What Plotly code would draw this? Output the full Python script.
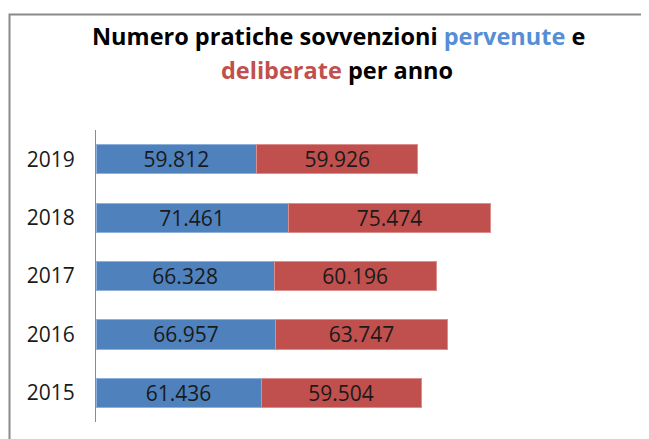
import plotly.graph_objects as go

years = ["2015", "2016", "2017", "2018", "2019"]
pervenute = [61436, 66957, 66328, 71461, 59812]
deliberate = [59504, 63747, 60196, 75474, 59926]

# The page body has an 8px margin, so the figure is drawn 8px smaller and
# every target pixel position is shifted by -8.
OFF = 8
W, H = 649 - OFF, 439 - OFF
L, R, T, B = 96 - OFF, 526 - OFF, 130 - OFF, 422 - OFF  # plot area in pixels


def px_to_paper_x(px):
    return (px - OFF - L) / (R - L)


def px_to_paper_y(py):
    return (B - (py - OFF)) / (B - T)


def fmt(v):
    return f"{v:,}".replace(",", ".")


BLUE = "#4F81BD"
RED = "#C0504D"
FONT = "Open Sans"
LABEL_SIZE = 21

fig = go.Figure()
fig.add_trace(go.Bar(
    y=years, x=pervenute, orientation="h", name="pervenute",
    marker=dict(color=BLUE, line=dict(color="#8eb0dc", width=1)),
    text=[fmt(v) for v in pervenute], textposition="inside",
    insidetextanchor="middle", constraintext="none",
    textfont=dict(family=FONT, size=LABEL_SIZE, color="#1a1a1a"),
    hoverinfo="skip",
))
fig.add_trace(go.Bar(
    y=years, x=deliberate, orientation="h", name="deliberate",
    marker=dict(color=RED, line=dict(color="#dc8e8c", width=1)),
    text=[fmt(v) for v in deliberate], textposition="inside",
    insidetextanchor="middle", constraintext="none",
    textfont=dict(family=FONT, size=LABEL_SIZE, color="#1a1a1a"),
    hoverinfo="skip",
))

fig.update_layout(
    width=W, height=H,
    barmode="stack", bargap=0.5,
    showlegend=False,
    paper_bgcolor="white", plot_bgcolor="white",
    margin=dict(l=L, r=W - R, t=T, b=H - B, pad=0),
    font=dict(family=FONT, color="#1a1a1a"),
    xaxis=dict(range=[0, 160000], visible=False, showgrid=False, zeroline=False),
    yaxis=dict(
        type="category", showline=True, linecolor="#8c8c8c", linewidth=1,
        ticks="", showgrid=False, zeroline=False,
        tickfont=dict(family=FONT, size=LABEL_SIZE, color="#1a1a1a"),
        ticklabelstandoff=16,
    ),
)

# chart border (left and top edges visible)
fig.add_shape(
    type="path", xref="paper", yref="paper",
    path=(f"M {px_to_paper_x(9.5)},{px_to_paper_y(460)} "
          f"L {px_to_paper_x(9.5)},{px_to_paper_y(14.5)} "
          f"L {px_to_paper_x(700)},{px_to_paper_y(14.5)}"),
    line=dict(color="#8a8a8a", width=2),
)

fig.add_annotation(
    xref="paper", yref="paper", x=px_to_paper_x(338), y=px_to_paper_y(36),
    xanchor="center", yanchor="middle", showarrow=False,
    text=("<b>Numero pratiche sovvenzioni "
          "<span style='color:#558ED5'>pervenute</span> e</b>"),
    font=dict(family=FONT, size=23.5, color="black"),
)
fig.add_annotation(
    xref="paper", yref="paper", x=px_to_paper_x(337), y=px_to_paper_y(70),
    xanchor="center", yanchor="middle", showarrow=False,
    text="<b><span style='color:#C0504D'>deliberate</span> per anno</b>",
    font=dict(family=FONT, size=23.5, color="black"),
)

fig.write_html("out.html")
